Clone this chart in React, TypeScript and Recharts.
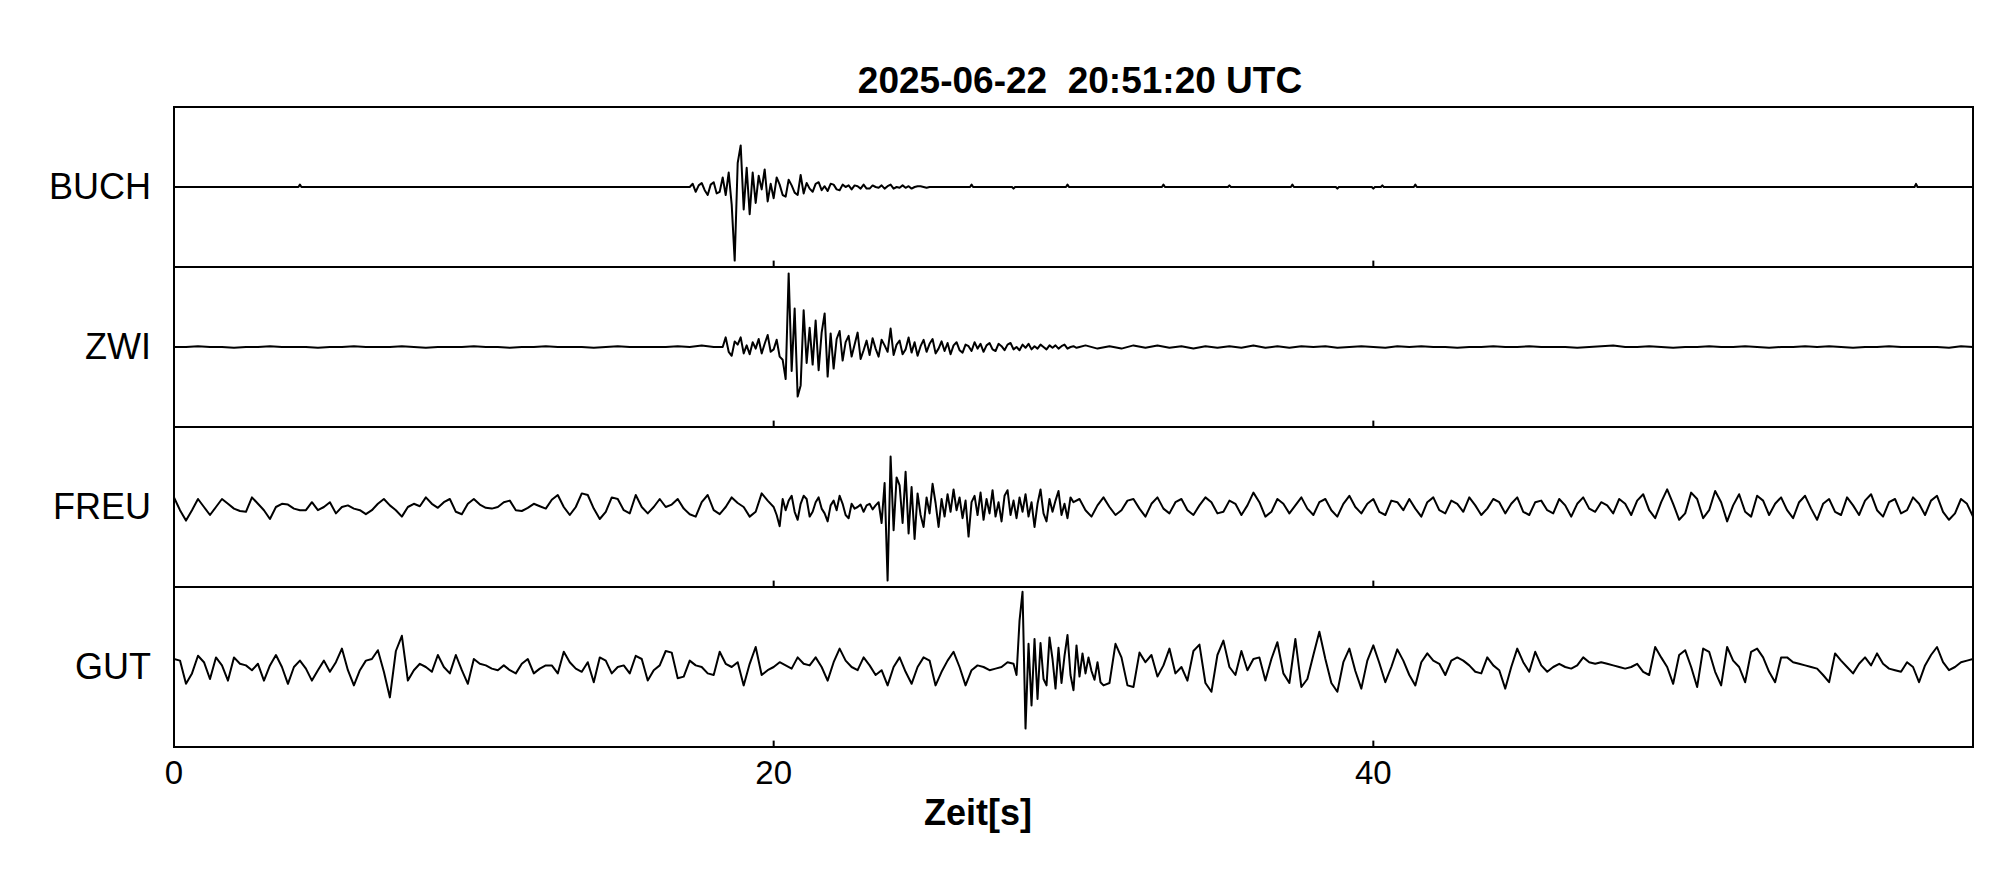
import React from 'react';
import { LineChart, Line, XAxis, YAxis, ReferenceLine } from 'recharts';

const TITLE = '2025-06-22  20:51:20 UTC';
const X_LABEL = 'Zeit[s]';
const STATIONS = ['BUCH', 'ZWI', 'FREU', 'GUT'];
const X_TICKS = [0, 20, 40];
const X_MIN = 0;
const X_MAX = 60;
const Y_MIN = -100;
const Y_MAX = 100;

// ---- BUCH ----
const BUCH_PRE: [number, number][] = [[0, 0], [4.15, 0], [4.2, 3], [4.25, 0], [17.1, 0]];
const BUCH_EVENT_START = 17.2;
const BUCH_EVENT_STEP = 0.1;
const BUCH_EVENT = [
  0, 4, -6, 2, 5, -4, -10, 3, 6, -8,
  -6, 12, -10, 18, -22, -92, 30, 52, -28, 24,
  -34, 18, -20, 14, -3, 22, -18, 4, -14, 12,
  3, -10, -12, 9, 2, -7, -10, 15, -8, 5,
  -2, -6, 4, 6, -4, 1, -5, 4, 3, -3,
  -4, 3, 0, 2, -3, 2, 1, -2, 3, -2,
  -2, 2, 0, -1, 2, -2, 1, 3, -2, 0,
  -1, 2, -1, 1, -2, 0, 1, 1, 0, -1, 0,
];
const BUCH_POST: [number, number][] = [
  [25.6, 0], [26.55, 0], [26.6, 3], [26.65, 0], [27.95, 0], [28.0, -2], [28.05, 0],
  [29.75, 0], [29.8, 3], [29.85, 0], [32.95, 0], [33.0, 3], [33.05, 0],
  [35.15, 0], [35.2, 2], [35.25, 0], [37.25, 0], [37.3, 3], [37.35, 0],
  [38.75, 0], [38.8, -2], [38.85, 0], [39.95, 0], [40.0, -2], [40.05, 0],
  [40.25, 0], [40.3, 2], [40.35, 0], [41.35, 0], [41.4, 3], [41.45, 0],
  [58.05, 0], [58.1, 4], [58.15, 0], [60, 0],
];

// ---- ZWI ----
const ZWI_PRE_START = 0;
const ZWI_PRE_STEP = 0.4;
const ZWI_PRE = [
  0, 0, 1, 0, 0, -1, 0, 0, 1, 0,
  0, 0, -1, 0, 0, 1, 0, 0, 0, 1,
  0, -1, 0, 0, 0, 1, 0, 0, -1, 0,
  0, 1, 0, 0, 0, -1, 0, 1, 0, 0,
  0, 0, 1, 0, 2, 0,
];
const ZWI_EVENT_START = 18.3;
const ZWI_EVENT_STEP = 0.1;
const ZWI_EVENT = [
  0, 12, -6, -11, 7, 3, 12, -8, 2, -9,
  6, -2, 10, -8, 4, 15, -6, -3, 9, -12,
  -16, -40, 92, -30, 48, -62, -48, 46, -20, 24,
  -22, 33, -29, 18, 42, -37, 17, -27, 10, 20,
  -17, 6, 14, -12, 3, 18, -15, -4, 8, -10,
  11, -2, -12, 9, 2, -6, 23, -10, 3, 8,
  -9, -3, 12, -7, 6, -11, 1, 9, -6, 4,
  10, -8, -2, 7, -5, 5, -9, 2, 6, -4,
  -7, 3, 1, -5, 6, -2, 4, -6, 2, 5,
  -3, -5, 4, 1, -4, 3, 5, -3, 0, -4,
  3, -1, 4, -3, 1, -2, 3, 0, -3, 2,
  -1, 2, -2, 1, 3, -2, 0, 1, -1, 0,
];
const ZWI_POST_START = 30.4;
const ZWI_POST_STEP = 0.4;
const ZWI_POST = [
  2, -2, 1, -2, 2, -1, 2, -1, 1, -2,
  1, -1, 1, -1, 2, -1, 1, -1, 1, 0,
  1, -1, 0, 1, 0, -1, 1, 0, 1, 0,
  0, -1, 0, 0, 1, 0, 0, 1, 0, 0,
  0, -1, 0, 1, 2, 0, 0, 1, 0, -1,
  0, 0, 1, 0, 0, 1, 0, -1, 0, 0,
  1, 0, 1, 0, -1, 0, 0, 1, 0, 0,
  0, 0, -1, 1, 0,
];

// ---- FREU ----
const FREU_PRE_START = 0;
const FREU_PRE_STEP = 0.2;
const FREU_PRE = [
  12, -4, -17, -4, 10, 0, -10, 0, 10, 4,
  -2, -5, -6, 12, 4, -4, -15, 0, 4, 3,
  -2, -4, -4, 6, -4, 0, 6, -8, 0, 2,
  -2, -4, -9, -4, 4, 10, 2, -4, -12, 0,
  4, 1, 12, 4, -1, 6, 10, -6, -9, 4,
  10, 3, -1, -2, 0, 6, 8, -4, -5, -1,
  4, 1, -2, 9, 15, 0, -10, 0, 17, 15,
  -2, -15, -6, 12, 10, -4, -8, 15, 0, -8,
  0, 10, 0, 3, 10, -2, -9, -12, 6, 15,
  -4, -9, 0, 12, 5, 0, -12, -6, 17, 8,
];
const FREU_EVENT_START = 20.0;
const FREU_EVENT_STEP = 0.1;
const FREU_EVENT = [
  0, -10, -24, 10, -4, 8, 14, -6, -16, 4,
  14, 10, -12, -6, 6, 12, -2, -8, -18, 2,
  8, -4, 14, 4, -10, -14, 4, -2, 0, 3,
  -6, 2, 4, -3, 2, 6, -20, 30, -92, 63,
  -29, 37, 27, -20, 44, -33, 25, -40, 17, -10,
  -25, 12, -8, 29, 5, -25, 10, -12, 16, -6,
  22, -4, 12, -14, 8, -37, 6, 14, -10, 18,
  -16, 10, -8, 21, -12, 6, -18, 14, 21, -10,
  8, -14, 12, -6, 16, -12, 6, -25, 4, 22,
  -8, -18, 10, -6, 8, 20, -10, 4, -14, 12,
  6,
];
const FREU_POST_START = 30.2;
const FREU_POST_STEP = 0.2;
const FREU_POST = [
  10, -4, -12, 2, 12, 0, -10, -4, 8, 10,
  -2, -12, 4, 12, -2, -8, 6, 10, -4, -10,
  2, 12, 6, -8, -6, 8, 4, -10, 2, 18,
  6, -12, -6, 10, 4, -8, 2, 12, -2, -10,
  6, 10, -4, -12, 4, 14, 0, -8, 4, 10,
  -6, -10, 8, 6, -4, 10, -2, -12, 6, 12,
  -4, -8, 8, 4, -6, 12, 2, -10, -2, 10,
  6, -8, 4, 12, -6, -10, 6, 8, -4, -8,
  10, 2, -12, 4, 12, -2, -6, 6, 2, -8,
  10, 4, -10, 8, 16, -4, -14, 6, 22, 4,
  -16, -8, 18, 10, -14, -4, 20, 6, -18, 2,
  16, -6, -12, 14, 8, -10, 4, 12, -4, -14,
  6, 14, -2, -16, 4, 10, -6, -10, 12, 2,
  -10, 8, 16, -4, -12, 6, 10, -8, -4, 12,
  4, -10, 8, 14, -6, -16, -8, 10, 4, -12,
];

// ---- GUT ----
const GUT_PRE_START = 0;
const GUT_PRE_STEP = 0.2;
const GUT_PRE = [
  10, 8, -21, -8, 14, 6, -15, 12, 2, -17,
  12, 4, 2, -4, 4, -17, 2, 15, 0, -21,
  0, 8, -2, -17, -4, 8, -6, 6, 23, -4,
  -23, -4, 8, 10, 21, -6, -38, 20, 39, -17,
  -4, 4, 0, -6, 15, 0, -8, 15, -4, -21,
  10, 4, 2, -2, -4, 2, -4, -8, 4, 10,
  -8, -2, 2, 2, -8, 19, 6, -2, -6, 6,
  -19, 12, 8, -8, 0, 2, -8, 14, 10, -17,
  -4, 2, 20, 18, -14, -12, 8, 2, 0, -8,
  -10, 19, 4, 0, 6, -23, 4, 25, -10, -4,
  0, 6, 2, -2, 12, 4, 2, 12, 0, -17,
  6, 23, 8, 0, -4, 12, 2, -10, -4, -23,
  0, 12, -6, -21, 0, 12, 8, -23, -6, 8,
  19, 0, -23, -4, 2, 0, -4, -2, 0, 6,
];
const GUT_EVENT_START = 28.0;
const GUT_EVENT_STEP = 0.1;
const GUT_EVENT = [
  4, -10, 58, 94, -77, 29, -48, 35, -40, 30,
  -15, -23, 37, 10, -27, 24, -20, 14, 40, -10,
  -29, 27, -12, 17, -8, 12, -5, -16, 6, -19,
  -23,
];
const GUT_POST_START = 31.2;
const GUT_POST_STEP = 0.2;
const GUT_POST = [
  -20, 29, 12, -23, -25, 18, 6, 15, -12, 2,
  23, -8, 0, -17, 20, 28, -20, -31, 15, 33,
  0, -10, 20, -4, 10, 12, -17, 10, 31, -8,
  -20, 35, -25, -15, 15, 44, 10, -20, -31, 6,
  23, -5, -27, 8, 27, 5, -19, 0, 22, 8,
  -10, -23, 6, 17, 8, 4, -10, 8, 12, 8,
  2, -6, -8, 12, 2, -4, -27, 0, 23, 6,
  -6, 19, 2, -6, 0, 4, 0, -2, 2, 12,
  6, 4, 6, 4, 2, 0, -2, 0, 4, -6,
  -10, 25, 12, 0, -21, 15, 21, 0, -25, 23,
  19, -6, -23, 25, 8, 0, -19, 19, 23, 12,
  -6, -19, 12, 12, 6, 4, 2, 0, -2, -10,
  -19, 17, 8, 0, -8, 4, 12, 2, 17, 4,
  -2, -4, -6, 6, 0, -19, 2, 15, 25, 6,
  -4, 0, 6, 8, 10,
];

type Pt = { t: number; v: number };
const sampled = (start: number, step: number, values: number[]): Pt[] =>
  values.map((v, i) => ({ t: Math.round((start + i * step) * 1000) / 1000, v }));
const pairs = (p: [number, number][]): Pt[] => p.map(([t, v]) => ({ t, v }));

const TRACES: Pt[][] = [
  [...pairs(BUCH_PRE), ...sampled(BUCH_EVENT_START, BUCH_EVENT_STEP, BUCH_EVENT), ...pairs(BUCH_POST)],
  [
    ...sampled(ZWI_PRE_START, ZWI_PRE_STEP, ZWI_PRE),
    ...sampled(ZWI_EVENT_START, ZWI_EVENT_STEP, ZWI_EVENT),
    ...sampled(ZWI_POST_START, ZWI_POST_STEP, ZWI_POST),
  ],
  [
    ...sampled(FREU_PRE_START, FREU_PRE_STEP, FREU_PRE),
    ...sampled(FREU_EVENT_START, FREU_EVENT_STEP, FREU_EVENT),
    ...sampled(FREU_POST_START, FREU_POST_STEP, FREU_POST),
  ],
  [
    ...sampled(GUT_PRE_START, GUT_PRE_STEP, GUT_PRE),
    ...sampled(GUT_EVENT_START, GUT_EVENT_STEP, GUT_EVENT),
    ...sampled(GUT_POST_START, GUT_POST_STEP, GUT_POST),
  ],
];

const FONT = '"Liberation Sans", Arial, Helvetica, sans-serif';
const PLOT_LEFT = 174;
const PLOT_TOP = 106.5;
const PLOT_W = 1799;
const PANEL_H = 160;
const AXIS_H = 60;
const SIDE = 40;

const TickLabel = (props: any) => {
  const { x, y, payload } = props;
  return (
    <text x={x} y={y + 25} textAnchor="middle" dominantBaseline="central" fontSize={33} fontFamily={FONT} fill="#000">
      {payload.value}
    </text>
  );
};

export default function App() {
  return (
    <div style={{ position: 'absolute', left: 0, top: 0, width: 2005, height: 880, background: '#fff', fontFamily: FONT, overflow: 'hidden' }}>
      <div
        style={{
          position: 'absolute', left: 680, top: 60.5, width: 800, height: 40, lineHeight: '40px',
          textAlign: 'center', fontSize: 37, fontWeight: 'bold', whiteSpace: 'pre', color: '#000',
        }}
      >
        {TITLE}
      </div>
      {STATIONS.map((name, i) => {
        const isLast = i === STATIONS.length - 1;
        return (
          <React.Fragment key={name}>
            <div
              style={{
                position: 'absolute', left: 0, width: 151, top: PLOT_TOP + i * PANEL_H + PANEL_H / 2 - 20,
                height: 40, lineHeight: '40px', textAlign: 'right', fontSize: 36, color: '#000',
              }}
            >
              {name}
            </div>
            <div style={{ position: 'absolute', left: PLOT_LEFT - SIDE, top: PLOT_TOP + i * PANEL_H }}>
              <LineChart
                width={PLOT_W + 2 * SIDE}
                height={PANEL_H + (isLast ? AXIS_H : 0)}
                data={TRACES[i]}
                margin={{ top: 0, right: SIDE, bottom: 0, left: SIDE }}
              >
                <XAxis
                  type="number"
                  dataKey="t"
                  domain={[X_MIN, X_MAX]}
                  allowDataOverflow
                  hide={!isLast}
                  ticks={X_TICKS}
                  interval={0}
                  height={isLast ? AXIS_H : 0}
                  axisLine={false}
                  tickLine={false}
                  tickSize={0}
                  tickMargin={0}
                  tick={<TickLabel />}
                />
                <YAxis type="number" domain={[Y_MIN, Y_MAX]} allowDataOverflow hide width={0} />
                {X_TICKS.filter((t) => t > X_MIN).map((t) => (
                  <ReferenceLine
                    key={t}
                    segment={[{ x: t, y: Y_MIN }, { x: t, y: Y_MIN + 8 }]}
                    stroke="#000"
                    strokeWidth={2}
                  />
                ))}
                <Line
                  type="linear"
                  dataKey="v"
                  stroke="#000"
                  strokeWidth={2}
                  strokeLinejoin="round"
                  dot={false}
                  isAnimationActive={false}
                />
              </LineChart>
            </div>
          </React.Fragment>
        );
      })}
      <div
        style={{
          position: 'absolute', left: PLOT_LEFT - 1, top: PLOT_TOP - 1, width: PLOT_W + 2,
          height: PANEL_H * 4 + 2, border: '2px solid #000', boxSizing: 'border-box',
        }}
      />
      {[1, 2, 3].map((k) => (
        <div
          key={k}
          style={{ position: 'absolute', left: PLOT_LEFT - 1, top: PLOT_TOP + k * PANEL_H - 1, width: PLOT_W + 2, height: 2, background: '#000' }}
        />
      ))}
      <div
        style={{
          position: 'absolute', left: 578, top: 793, width: 800, height: 40, lineHeight: '40px',
          textAlign: 'center', fontSize: 36, fontWeight: 'bold', color: '#000',
        }}
      >
        {X_LABEL}
      </div>
    </div>
  );
}
